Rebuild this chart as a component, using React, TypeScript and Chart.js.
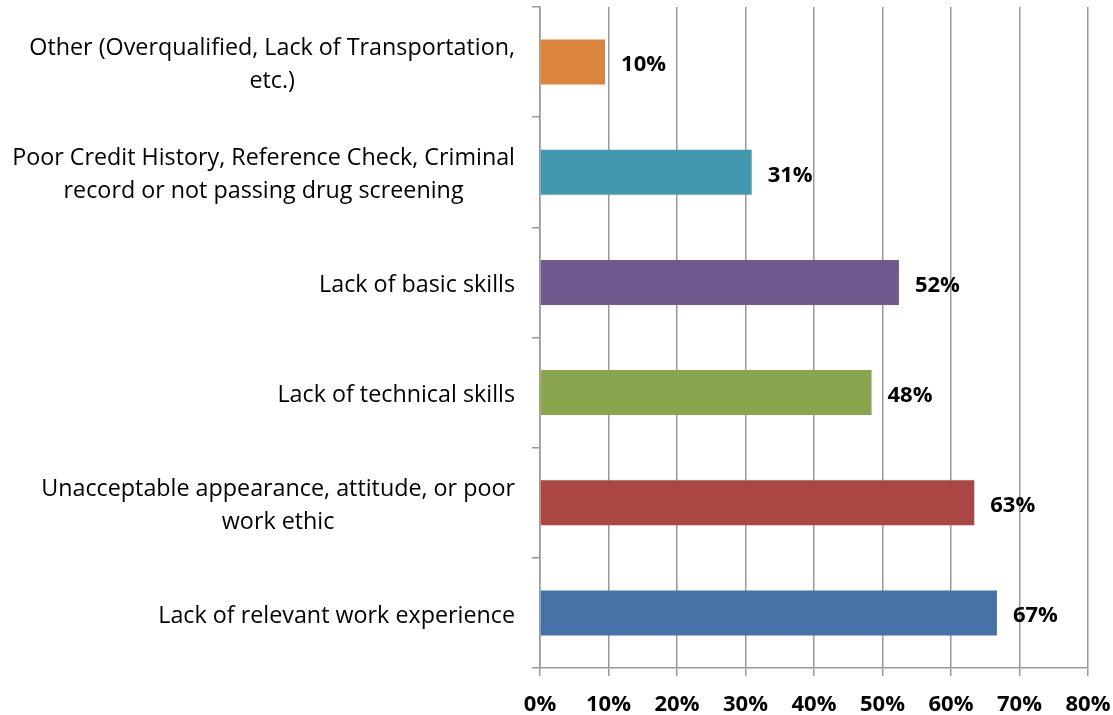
import React, { useEffect, useRef } from "react";
import { Chart, registerables } from "chart.js";

Chart.register(...registerables);

const categories: string[][] = [
  ["Other (Overqualified, Lack of Transportation,", "etc.)"],
  ["Poor Credit History, Reference Check, Criminal", "record or not passing drug screening"],
  ["Lack of basic skills"],
  ["Lack of technical skills"],
  ["Unacceptable appearance, attitude, or poor", "work ethic"],
  ["Lack of relevant work experience"],
];
const values: number[] = [9.5, 30.9, 52.4, 48.4, 63.4, 66.7];
const valueLabels: string[] = ["10%", "31%", "52%", "48%", "63%", "67%"];
const barColors: string[] = ["#DB843D", "#4198AF", "#71588F", "#89A54E", "#AA4643", "#4572A7"];
const xTicks: number[] = [0, 10, 20, 30, 40, 50, 60, 70, 80];

const FONT = "'Open Sans', Lato, 'Liberation Sans', sans-serif";

export default function App() {
  const ref = useRef<HTMLCanvasElement | null>(null);
  useEffect(() => {
    if (!ref.current) return;
    const labelPlugin = {
      id: "customLabels",
      afterDraw(chart: any) {
        const ctx = chart.ctx;
        const yScale = chart.scales.y;
        ctx.save();
        ctx.fillStyle = "#000";
        ctx.font = `23.3px ${FONT}`;
        ctx.textBaseline = "middle";
        ctx.textAlign = "center";
        const right = chart.chartArea.left - 25;
        const lh = 33;
        categories.forEach((lines, i) => {
          const y = yScale.getPixelForValue(i) + 3;
          const maxW = Math.max(...lines.map((l) => ctx.measureText(l).width));
          const cx = right - maxW / 2;
          lines.forEach((l, j) => {
            ctx.fillText(l, cx, y + (j - (lines.length - 1) / 2) * lh);
          });
        });
        ctx.font = `bold 22px ${FONT}`;
        ctx.textAlign = "left";
        const meta = chart.getDatasetMeta(0);
        meta.data.forEach((bar: any, i: number) => {
          ctx.fillText(valueLabels[i], bar.x + 16, bar.y + 3);
        });
        ctx.restore();
      },
    };
    const chart = new Chart(ref.current, {
      type: "bar",
      data: {
        labels: categories.map((c) => c.join(" ")),
        datasets: [
          {
            data: values,
            backgroundColor: barColors,
            barPercentage: 0.408,
            categoryPercentage: 1,
          },
        ],
      },
      options: {
        indexAxis: "y",
        animation: false,
        responsive: false,
        maintainAspectRatio: false,
        layout: { padding: { top: 7, right: 25, left: 0, bottom: 0 } },
        plugins: { legend: { display: false }, tooltip: { enabled: false } },
        scales: {
          x: {
            min: 0,
            max: 80,
            afterBuildTicks: (scale: any) => {
              scale.ticks = xTicks.map((v) => ({ value: v }));
            },
            ticks: {
              callback: (v: any) => v + "%",
              font: { family: FONT, size: 22, weight: "bold" },
              color: "#000",
              padding: 16,
              maxRotation: 0,
            },
            grid: { color: "#999", lineWidth: 1.5, tickLength: 8, drawTicks: true },
            border: { color: "#999", width: 1.5 },
            afterFit: (scale: any) => {
              scale.height = 47;
              scale.paddingLeft = 0;
              scale.paddingRight = 0;
            },
          },
          y: {
            ticks: { display: false },
            grid: {
              display: true,
              drawOnChartArea: false,
              drawTicks: true,
              tickLength: 8,
              offset: true,
              color: "#999",
              lineWidth: 1.5,
            },
            border: { color: "#999", width: 1.5 },
            afterFit: (scale: any) => {
              scale.width = 540;
            },
          },
        },
      },
      plugins: [labelPlugin],
    });
    return () => chart.destroy();
  }, []);
  return (
    <div style={{ position: "absolute", left: 0, top: 0, width: 1113, height: 715 }}>
      <canvas ref={ref} width={1113} height={715} style={{ display: "block" }} />
    </div>
  );
}
